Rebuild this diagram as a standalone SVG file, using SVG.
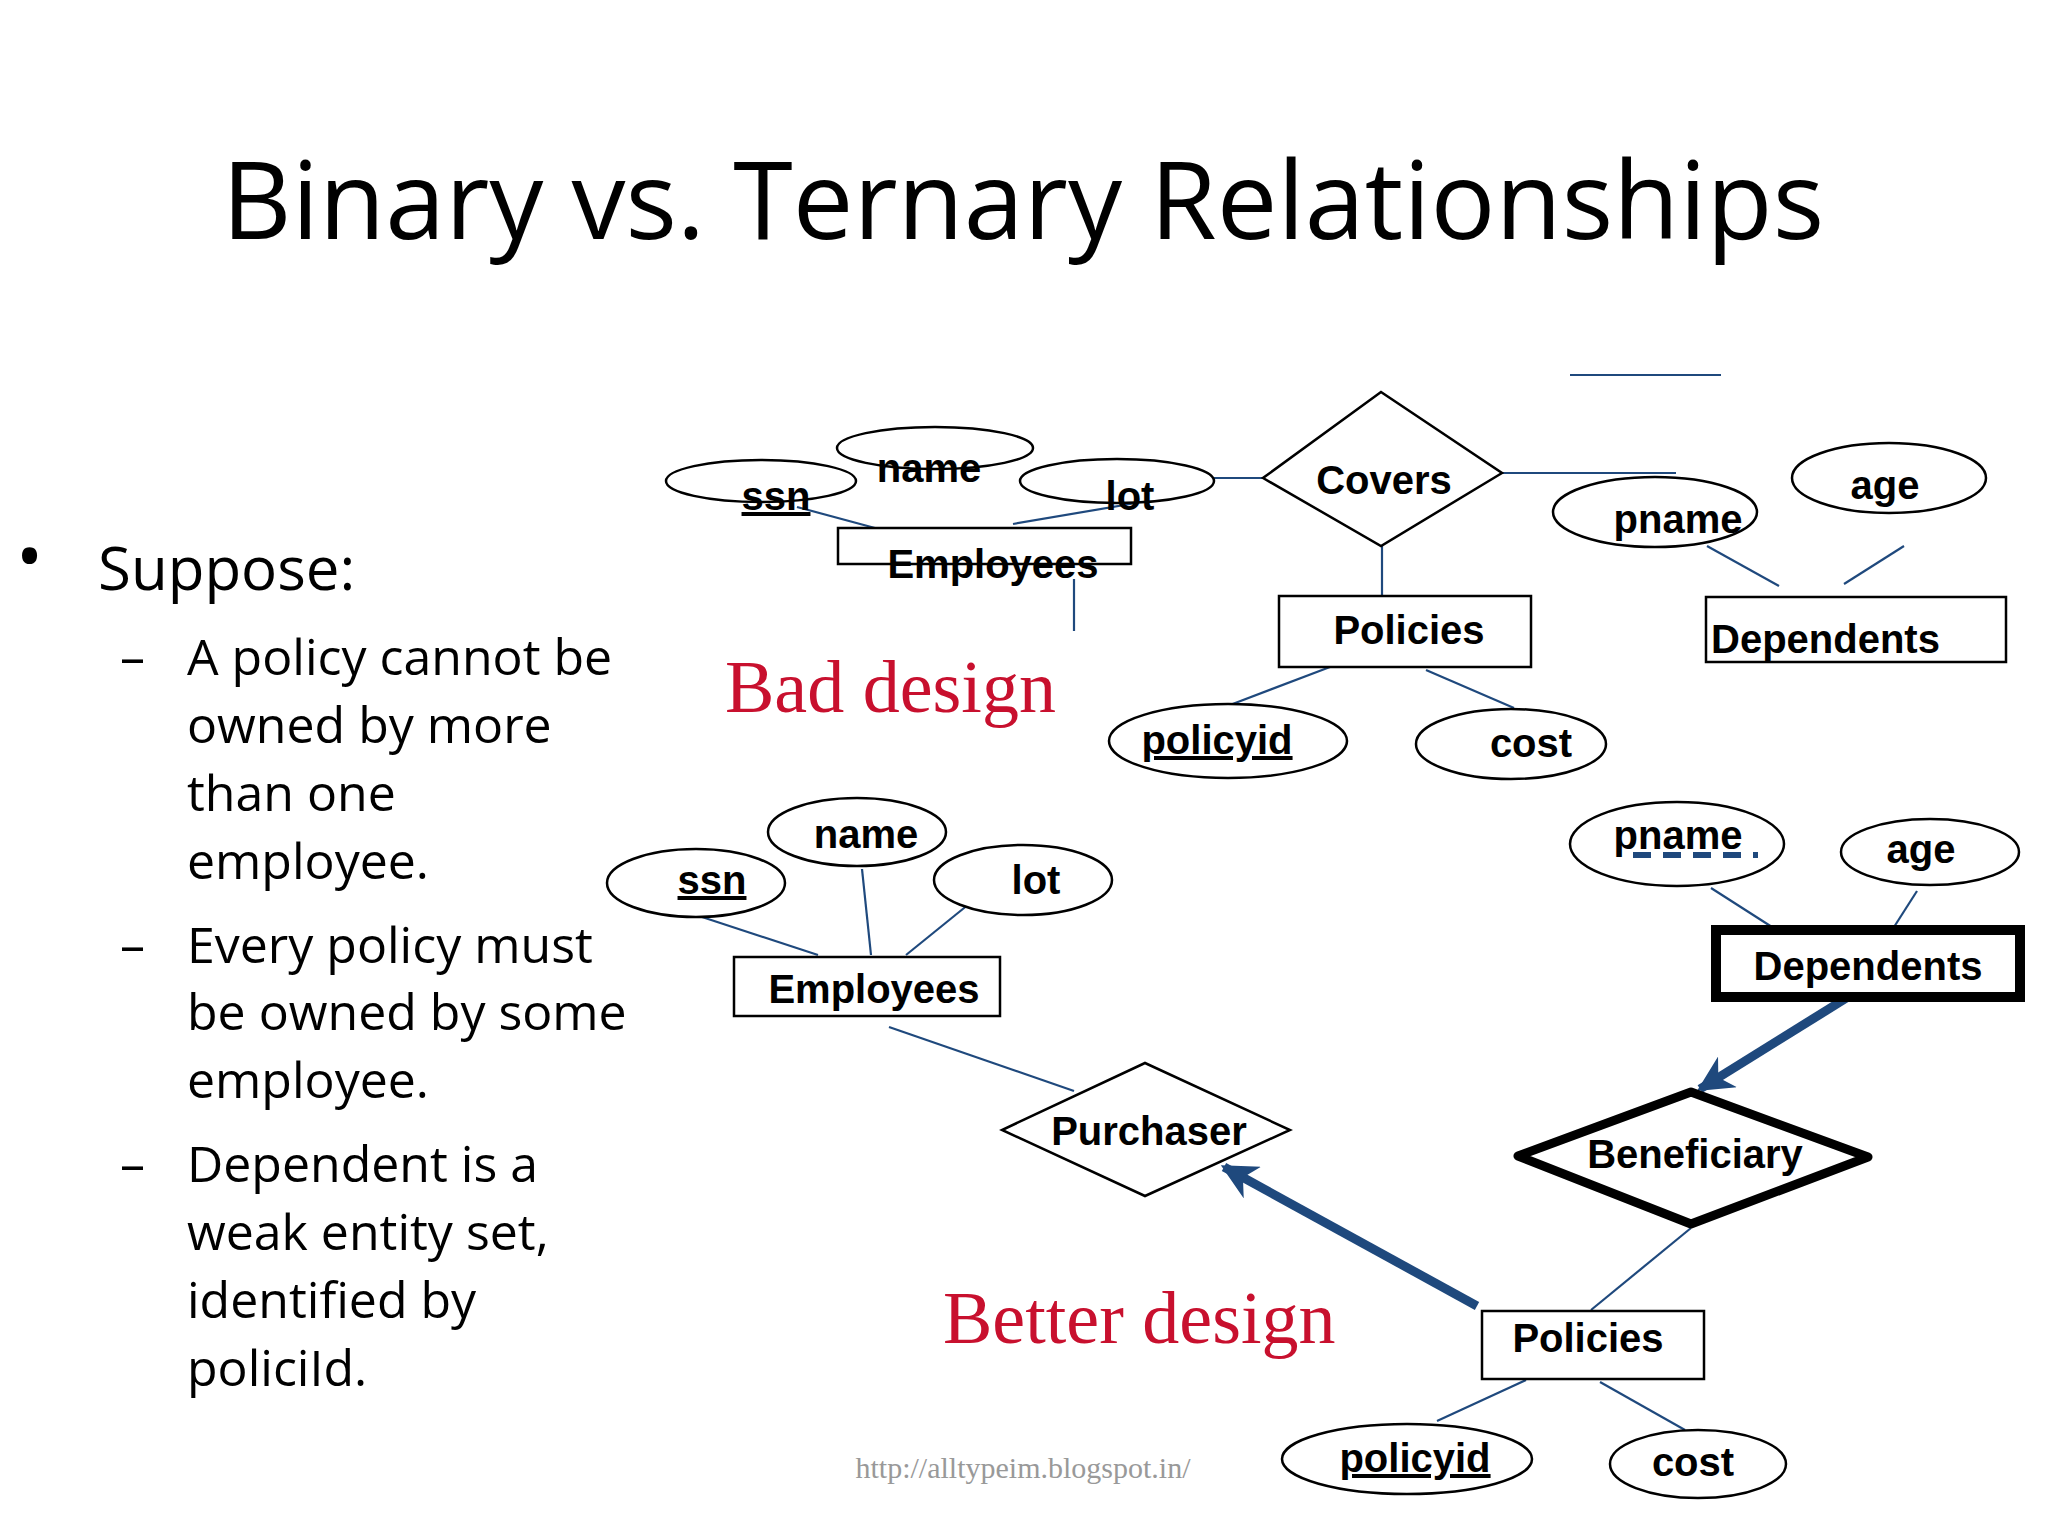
<svg xmlns="http://www.w3.org/2000/svg" width="2048" height="1536" viewBox="0 0 2048 1536">
<style>
.e{fill:#fff;stroke:#000;stroke-width:2.5}
.r{fill:#fff;stroke:#000;stroke-width:2.5}
.t{font-family:"Liberation Sans",Arial,sans-serif;font-weight:bold;font-size:40px;text-anchor:middle;fill:#000}
.u{text-decoration:underline}
.c line{stroke:#1f497d;stroke-width:2.2}
.b{font-family:"Open Sans","Noto Sans",sans-serif;fill:#000}
.red{font-family:"Liberation Serif",serif;font-size:74px;fill:#c8102e}
</style>
<defs>
<marker id="ah" viewBox="0 0 10 10" refX="9" refY="5" markerWidth="4" markerHeight="4" orient="auto" markerUnits="strokeWidth">
<path d="M0,0 L10,5 L0,10 L3,5 z" fill="#1f497d"/>
</marker>
</defs>
<rect width="2048" height="1536" fill="#fff"/>
<text x="1023" y="239" class="b" font-size="108" text-anchor="middle">Binary vs. Ternary Relationships</text>
<g class="b" font-size="50">
<text x="16" y="582" font-size="72">•</text>
<text x="98" y="590" font-size="60">Suppose:</text>
<text x="120" y="675">–</text><text x="187" y="675">A policy cannot be</text>
<text x="187" y="743">owned by more</text>
<text x="187" y="811">than one</text>
<text x="187" y="879">employee.</text>
<text x="120" y="963">–</text><text x="187" y="963">Every policy must</text>
<text x="187" y="1030">be owned by some</text>
<text x="187" y="1098">employee.</text>
<text x="120" y="1182">–</text><text x="187" y="1182">Dependent is a</text>
<text x="187" y="1250">weak entity set,</text>
<text x="187" y="1318">identified by</text>
<text x="187" y="1386">policiId.</text>
</g>
<g id="connectors" class="c">
<line x1="797" y1="507" x2="875" y2="528"/>
<line x1="1013" y1="524" x2="1136" y2="503"/>
<line x1="1110" y1="478" x2="1263" y2="478"/>
<line x1="1074" y1="579" x2="1074" y2="631"/>
<line x1="1502" y1="473" x2="1676" y2="473"/>
<line x1="1570" y1="375" x2="1721" y2="375"/>
<line x1="1382" y1="546" x2="1382" y2="596"/>
<line x1="1707" y1="546" x2="1779" y2="586"/>
<line x1="1904" y1="546" x2="1844" y2="584"/>
<line x1="1330" y1="667" x2="1230" y2="705"/>
<line x1="1426" y1="670" x2="1514" y2="708"/>
<line x1="699" y1="916" x2="818" y2="955"/>
<line x1="862" y1="869" x2="871" y2="955"/>
<line x1="969" y1="904" x2="906" y2="955"/>
<line x1="889" y1="1027" x2="1074" y2="1091"/>
<line x1="1711" y1="888" x2="1772" y2="927"/>
<line x1="1917" y1="891" x2="1894" y2="927"/>
<line x1="1691" y1="1228" x2="1591" y2="1310"/>
<line x1="1526" y1="1380" x2="1437" y2="1421"/>
<line x1="1600" y1="1382" x2="1685" y2="1430"/>
<line x1="1477" y1="1306" x2="1224" y2="1167" style="stroke-width:9" marker-end="url(#ah)"/>
<line x1="1848" y1="997" x2="1700" y2="1089" style="stroke-width:9" marker-end="url(#ah)"/>
</g>
<!-- Bad design -->
<g id="ssn1"><ellipse class="e" cx="761" cy="481" rx="95" ry="21"/><text class="t u" x="776" y="510">ssn</text></g>
<g id="name1"><ellipse class="e" cx="935" cy="448" rx="98" ry="21"/><text class="t" x="929" y="482">name</text></g>
<g id="lot1"><ellipse class="e" cx="1117" cy="481" rx="97" ry="22"/><text class="t" x="1130" y="510">lot</text></g>
<g id="emp1"><rect class="r" x="838" y="528" width="293" height="36"/><text class="t" x="993" y="578">Employees</text></g>
<g id="covers"><polygon class="e" points="1381,392 1502,473 1381,546 1263,478"/><text class="t" x="1384" y="494">Covers</text></g>
<g id="pol1"><rect class="r" x="1279" y="596" width="252" height="71"/><text class="t" x="1409" y="644">Policies</text></g>
<g id="pname1"><ellipse class="e" cx="1655" cy="512" rx="102" ry="35"/><text class="t" x="1678" y="533">pname</text></g>
<g id="age1"><ellipse class="e" cx="1889" cy="478" rx="97" ry="35"/><text class="t" x="1885" y="499">age</text></g>
<g id="dep1"><rect class="r" x="1706" y="597" width="300" height="65"/><text class="t" x="1711" y="653" style="text-anchor:start">Dependents</text></g>
<g id="policyid1"><ellipse class="e" cx="1228" cy="741" rx="119" ry="37"/><text class="t u" x="1217" y="754">policyid</text></g>
<g id="cost1"><ellipse class="e" cx="1511" cy="744" rx="95" ry="35"/><text class="t" x="1531" y="757">cost</text></g>
<text class="red" x="725" y="712">Bad design</text>
<!-- Better design -->
<g id="ssn2"><ellipse class="e" cx="696" cy="883" rx="89" ry="34"/><text class="t u" x="712" y="894">ssn</text></g>
<g id="name2"><ellipse class="e" cx="857" cy="832" rx="89" ry="34"/><text class="t" x="866" y="848">name</text></g>
<g id="lot2"><ellipse class="e" cx="1023" cy="880" rx="89" ry="35"/><text class="t" x="1036" y="894">lot</text></g>
<g id="emp2"><rect class="r" x="734" y="957" width="266" height="59"/><text class="t" x="874" y="1003">Employees</text></g>
<g id="purchaser"><polygon class="e" points="1145,1063 1290,1130 1145,1196 1002,1130"/><text class="t" x="1149" y="1145">Purchaser</text></g>
<g id="pname2"><ellipse class="e" cx="1677" cy="844" rx="107" ry="42"/><text class="t" x="1678" y="849">pname</text><line x1="1633" y1="855" x2="1758" y2="855" stroke="#1f497d" stroke-width="6" stroke-dasharray="18,12"/></g>
<g id="age2"><ellipse class="e" cx="1930" cy="852" rx="89" ry="33"/><text class="t" x="1921" y="863">age</text></g>
<g id="dep2"><rect x="1716" y="930" width="304" height="67" fill="#fff" stroke="#000" stroke-width="10"/><text class="t" x="1868" y="980">Dependents</text></g>
<g id="beneficiary"><polygon points="1691,1092 1868,1157 1691,1224 1518,1156" fill="#fff" stroke="#000" stroke-width="9" stroke-linejoin="round"/><text class="t" x="1695" y="1168">Beneficiary</text></g>
<g id="pol2"><rect class="r" x="1482" y="1311" width="222" height="68"/><text class="t" x="1588" y="1352">Policies</text></g>
<g id="policyid2"><ellipse class="e" cx="1407" cy="1459" rx="125" ry="35"/><text class="t u" x="1415" y="1472">policyid</text></g>
<g id="cost2"><ellipse class="e" cx="1698" cy="1464" rx="88" ry="34"/><text class="t" x="1693" y="1476">cost</text></g>
<text class="red" x="943" y="1343">Better design</text>
<text x="1023" y="1478" font-family="Liberation Serif,serif" font-size="30" fill="#999" text-anchor="middle">http://alltypeim.blogspot.in/</text>
</svg>
